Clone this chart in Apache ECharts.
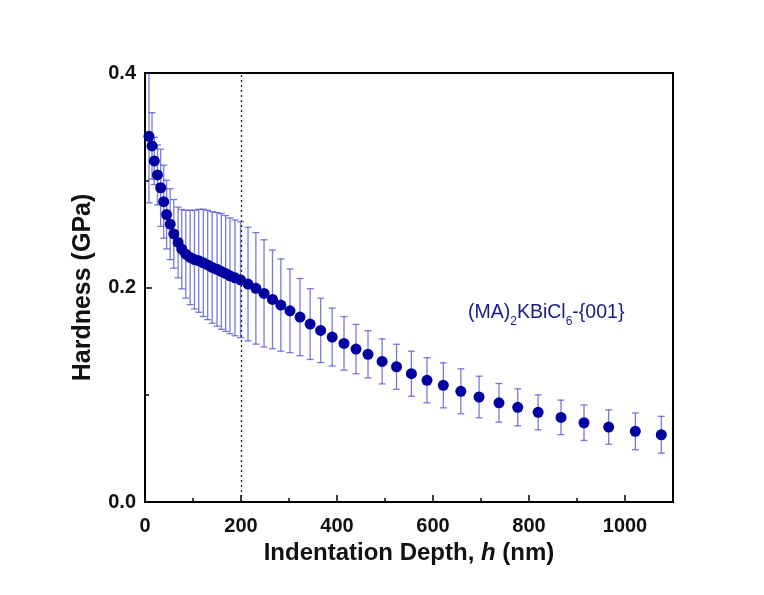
<!DOCTYPE html>
<html>
<head>
<meta charset="utf-8">
<script src="https://cdn.jsdelivr.net/npm/echarts@6/dist/echarts.min.js"></script>
<style>html,body{margin:0;padding:0;background:#fff}#c{width:764px;height:595px}</style>
</head>
<body>
<div id="c"></div>
<script>
// Indentation depth (nm)
var depth = [8.3, 14.6, 19.4, 26, 32.7, 39, 45, 52.5, 60, 69, 76.5, 85, 94, 103, 112, 121.5, 130.6, 140, 150, 159, 168, 177, 187.5, 199,
  214.6, 231, 248, 265.6, 283, 302, 323, 344, 366, 390, 414.6, 439.6, 464.6, 494, 524, 555, 587.5, 621.5, 658, 696, 737.5, 776.5, 819,
  866.7, 914.6, 966, 1021.5, 1075.6];
// Hardness (GPa)
var hardness = [0.341, 0.332, 0.318, 0.305, 0.293, 0.280, 0.268, 0.259, 0.250, 0.242, 0.2358, 0.2311, 0.228, 0.226, 0.2249, 0.223, 0.221,
  0.2187, 0.2169, 0.215, 0.2131, 0.2109, 0.209, 0.2072, 0.2032, 0.1992, 0.1945, 0.1889, 0.1836, 0.1783, 0.1724, 0.1659, 0.160, 0.1538,
  0.1479, 0.1426, 0.1377, 0.1311, 0.1261, 0.1196, 0.1135, 0.1088, 0.1032, 0.0979, 0.0925, 0.0883, 0.0836, 0.0789, 0.0739, 0.0699,
  0.0659, 0.0627];
// Standard deviation (GPa)
var hardnessErr = [0.062, 0.031, 0.022, 0.028, 0.036, 0.034, 0.032, 0.033, 0.032, 0.033, 0.037, 0.041, 0.044, 0.046, 0.048, 0.050, 0.051,
  0.052, 0.053, 0.054, 0.054, 0.054, 0.054, 0.054, 0.053, 0.052, 0.050, 0.046, 0.043, 0.039, 0.036, 0.033, 0.030, 0.027, 0.025, 0.023,
  0.022, 0.021, 0.021, 0.021, 0.021, 0.021, 0.021, 0.0194, 0.018, 0.0172, 0.0163, 0.0161, 0.0165, 0.016, 0.0171, 0.0172];
var markerDepth = 200;

var pts = depth.map(function (d, i) { return [d, hardness[i]]; });
var errs = depth.map(function (d, i) { return [d, hardness[i] - hardnessErr[i], hardness[i] + hardnessErr[i]]; });

var chart = echarts.init(document.getElementById('c'), null, {renderer: 'canvas'});
var FONT = '"Liberation Sans", Arial, sans-serif';
chart.setOption({
  animation: false,
  grid: {left: 145, right: 91, top: 73, bottom: 93, show: true, borderColor: '#000', borderWidth: 2, backgroundColor: 'transparent'},
  xAxis: {
    type: 'value', min: 0, max: 1100, interval: 200,
    name: '{b|Indentation Depth, }{i|h}{b| (nm)}', nameLocation: 'middle', nameGap: 37,
    nameTextStyle: {rich: {
      b: {fontFamily: FONT, fontWeight: 'bold', fontSize: 24, color: '#111'},
      i: {fontFamily: FONT, fontWeight: 'bold', fontStyle: 'italic', fontSize: 24, color: '#111'}
    }},
    axisLine: {show: true, lineStyle: {color: '#000', width: 2}},
    axisTick: {show: true, inside: true, length: 7, lineStyle: {color: '#000', width: 1.5}},
    minorTick: {show: true, splitNumber: 2, length: 4, lineStyle: {color: '#000', width: 1.5}},
    axisLabel: {fontFamily: FONT, fontWeight: 'bold', fontSize: 20, color: '#111', margin: 14, showMaxLabel: false,
      formatter: function (v) { return String(v); }},
    splitLine: {show: false}
  },
  yAxis: {
    type: 'value', min: 0, max: 0.4, interval: 0.2,
    name: 'Hardness (GPa)', nameLocation: 'middle', nameGap: 49,
    nameTextStyle: {fontFamily: FONT, fontWeight: 'bold', fontSize: 25, color: '#111'},
    axisLine: {show: true, lineStyle: {color: '#000', width: 2}},
    axisTick: {show: true, inside: true, length: 7, lineStyle: {color: '#000', width: 1.5}},
    minorTick: {show: true, splitNumber: 2, length: 4, lineStyle: {color: '#000', width: 1.5}},
    axisLabel: {fontFamily: FONT, fontWeight: 'bold', fontSize: 20, color: '#111', margin: 9,
      formatter: function (v) { return v.toFixed(1); }},
    splitLine: {show: false}
  },
  series: [
    {
      type: 'custom',
      data: errs,
      clip: true,
      z: 2,
      renderItem: function (params, api) {
        var x = api.value(0);
        var lo = api.coord([x, api.value(1)]);
        var hi = api.coord([x, api.value(2)]);
        var w = 3.5;
        var st = {stroke: 'rgba(70,70,205,0.72)', lineWidth: 1.3};
        return {type: 'group', children: [
          {type: 'line', shape: {x1: lo[0], y1: lo[1], x2: hi[0], y2: hi[1]}, style: st},
          {type: 'line', shape: {x1: lo[0] - w, y1: lo[1], x2: lo[0] + w, y2: lo[1]}, style: st},
          {type: 'line', shape: {x1: hi[0] - w, y1: hi[1], x2: hi[0] + w, y2: hi[1]}, style: st}
        ]};
      }
    },
    {
      type: 'scatter',
      data: pts,
      symbol: 'circle',
      symbolSize: 11,
      z: 3,
      itemStyle: {color: '#0000a0', opacity: 1},
      markLine: {
        silent: true, symbol: 'none', label: {show: false},
        lineStyle: {type: [2, 3], color: '#222', width: 1.3},
        data: [{xAxis: markerDepth}]
      }
    }
  ],
  graphic: [{
    type: 'text', left: 468, top: 303, z: 10,
    style: {
      text: '(MA){s|2}KBiCl{s|6}-{001}',
      fontFamily: FONT, fontSize: 19.5, fill: '#1a1a8c',
      rich: {
        s: {fontFamily: FONT, fontSize: 12, fill: '#1a1a8c', verticalAlign: 'bottom', lineHeight: 12, padding: [0, 0, -5, 0]}
      }
    }
  }]
});
</script>
</body>
</html>
